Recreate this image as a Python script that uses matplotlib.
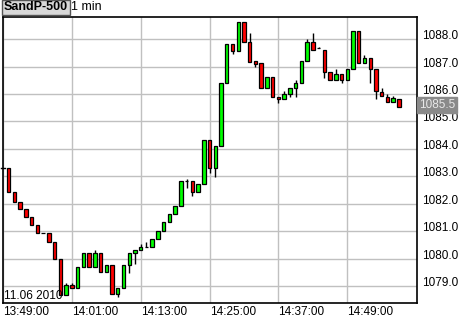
import numpy as np
import matplotlib.pyplot as plt
from matplotlib.transforms import blended_transform_factory

plt.rcParams['font.family'] = ['Liberation Sans', 'DejaVu Sans']

# minute bars, index = minutes after 13:49:00
minutes = list(range(1, 70))
opens = [1083.29, 1082.42, 1082.08, 1081.80, 1081.51, 1081.21, 1080.93, 1080.92, 1080.62, 1080.00,
         1078.67, 1079.04, 1078.92, 1079.70, 1080.19, 1079.70, 1080.19, 1079.50, 1079.78, 1078.70,
         1078.92, 1079.78, 1080.19, 1080.31, 1080.41, 1080.41, 1080.71, 1080.99, 1081.32, 1081.62,
         1081.90, 1082.82, 1082.82, 1082.42, 1082.71, 1084.31, 1083.30, 1084.10, 1086.39, 1087.82,
         1087.58, 1088.62, 1087.89, 1087.20, 1087.12, 1086.21, 1086.61, 1085.91, 1085.81, 1085.99,
         1086.21, 1086.39, 1087.20, 1087.89, 1087.67, 1087.61, 1086.80, 1086.52, 1086.72, 1086.52,
         1086.92, 1088.30, 1087.12, 1087.31, 1086.91, 1086.09, 1085.91, 1085.72, 1085.82]
highs = [1083.29, 1082.42, 1082.08, 1081.80, 1081.51, 1081.21, 1080.93, 1080.92, 1080.62, 1080.00,
         1079.12, 1079.12, 1079.70, 1080.19, 1080.19, 1080.31, 1080.19, 1079.78, 1079.78, 1078.92,
         1079.78, 1080.19, 1080.31, 1080.52, 1080.59, 1080.71, 1080.99, 1081.32, 1081.62, 1081.90,
         1082.83, 1082.90, 1082.82, 1082.71, 1084.31, 1084.31, 1084.10, 1086.39, 1087.82, 1087.82,
         1088.62, 1088.62, 1088.22, 1087.20, 1087.12, 1086.61, 1086.61, 1085.91, 1086.11, 1086.21,
         1086.52, 1087.20, 1088.00, 1088.22, 1087.73, 1087.61, 1086.80, 1086.92, 1086.72, 1086.92,
         1088.30, 1088.30, 1087.43, 1087.31, 1086.91, 1086.21, 1085.99, 1085.93, 1085.82]
lows = [1082.42, 1082.08, 1081.80, 1081.51, 1081.21, 1080.92, 1080.93, 1080.62, 1080.00, 1078.67,
        1078.67, 1078.92, 1078.92, 1079.70, 1079.70, 1079.70, 1079.50, 1079.50, 1078.70, 1078.61,
        1078.92, 1079.49, 1079.79, 1080.31, 1080.41, 1080.41, 1080.71, 1080.99, 1081.32, 1081.62,
        1081.90, 1082.59, 1082.29, 1082.42, 1082.71, 1083.11, 1082.99, 1084.10, 1086.39, 1087.46,
        1087.58, 1087.89, 1087.18, 1087.00, 1086.21, 1086.21, 1085.91, 1085.69, 1085.81, 1085.91,
        1085.91, 1086.39, 1087.20, 1087.61, 1087.67, 1086.60, 1086.52, 1086.52, 1086.39, 1086.52,
        1086.92, 1087.12, 1087.12, 1086.39, 1085.81, 1085.93, 1085.72, 1085.72, 1085.52]
closes = [1082.42, 1082.08, 1081.80, 1081.51, 1081.21, 1080.92, 1080.93, 1080.62, 1080.00, 1078.67,
          1079.04, 1078.92, 1079.70, 1080.19, 1079.70, 1080.19, 1079.50, 1079.78, 1078.70, 1078.92,
          1079.78, 1080.19, 1080.31, 1080.41, 1080.41, 1080.71, 1080.99, 1081.32, 1081.62, 1081.90,
          1082.83, 1082.82, 1082.42, 1082.71, 1084.31, 1083.30, 1084.10, 1086.39, 1087.82, 1087.58,
          1088.62, 1087.89, 1087.18, 1087.11, 1086.21, 1086.61, 1085.91, 1085.81, 1085.99, 1086.21,
          1086.39, 1087.20, 1087.89, 1087.61, 1087.67, 1086.80, 1086.52, 1086.72, 1086.52, 1086.92,
          1088.30, 1087.12, 1087.31, 1086.91, 1086.12, 1085.93, 1085.72, 1085.85, 1085.52]

price_ticks = [1079.0, 1080.0, 1081.0, 1082.0, 1083.0, 1084.0, 1085.0, 1086.0, 1087.0, 1088.0]
time_ticks = [0, 12, 24, 36, 48, 60]
time_labels = ['13:49:00', '14:01:00', '14:13:00', '14:25:00', '14:37:00', '14:49:00']

x = np.array(minutes)
o = np.array(opens)
h = np.array(highs)
l = np.array(lows)
c = np.array(closes)

fig = plt.figure(figsize=(4.6, 3.2), dpi=100)
W, H = 460, 320
ax = fig.add_axes([3 / W, 1 - 303 / H, (416.7 - 3) / W, (303 - 17) / H])

# свечи
up = c > o
colors = np.where(up, '#00ff00', '#ff0000')
ax.vlines(x, l, h, color='black', linewidth=1, zorder=2)
ax.bar(x, np.abs(c - o), bottom=np.minimum(o, c), width=0.6, color=colors,
       edgecolor='black', linewidth=0.9, zorder=3)

ax.set_xlim(0, 72.1)
ax.set_ylim(1078.38, 1088.81)

ax.set_yticks(price_ticks)
ax.set_yticklabels(['%.1f' % p for p in price_ticks])
ax.set_xticks(time_ticks)
ax.set_xticklabels(time_labels)
ax.yaxis.tick_right()
ax.tick_params(axis='both', length=0, labelsize=8.5, colors='black')
ax.tick_params(axis='y', pad=4)
ax.tick_params(axis='x', pad=2)
for lab in ax.get_xticklabels():
    lab.set_ha('left')
for lab in ax.get_yticklabels():
    lab.set_va('baseline')

ax.grid(True, color='#c0c0c0', linewidth=1)
ax.set_axisbelow(True)
for s in ax.spines.values():
    s.set_linewidth(1.2)
    s.set_color('black')

# маленькая отметка слева
ax.plot([-0.35, 0.35], [opens[0], opens[0]], color='black', linewidth=1, clip_on=False, zorder=4)

# дата внизу слева
ax.text(0.2, 1078.42, '11.06 2010', fontsize=8.5, ha='left', va='bottom', zorder=5)

# последняя цена
tr = blended_transform_factory(fig.transFigure, ax.transData)
fig.text(437 / W, closes[-1] + 0.08, '%.1f' % closes[-1], transform=tr, fontsize=8.5,
         color='#e8e8e8', ha='center', va='center', zorder=10,
         bbox=dict(boxstyle='square,pad=0.15', facecolor='#8a8a8a', edgecolor='#8a8a8a'))

# заголовок
fig.text(4 / W, 1 - 7.5 / H, 'SandP-500', fontsize=9, fontweight='bold', ha='left', va='center',
         bbox=dict(boxstyle='square,pad=0.12', facecolor='#d8d8d8', edgecolor='#555555', linewidth=1))
fig.text(71 / W, 1 - 7.5 / H, '1 min', fontsize=9, ha='left', va='center')

plt.savefig('out.png', dpi=100)
